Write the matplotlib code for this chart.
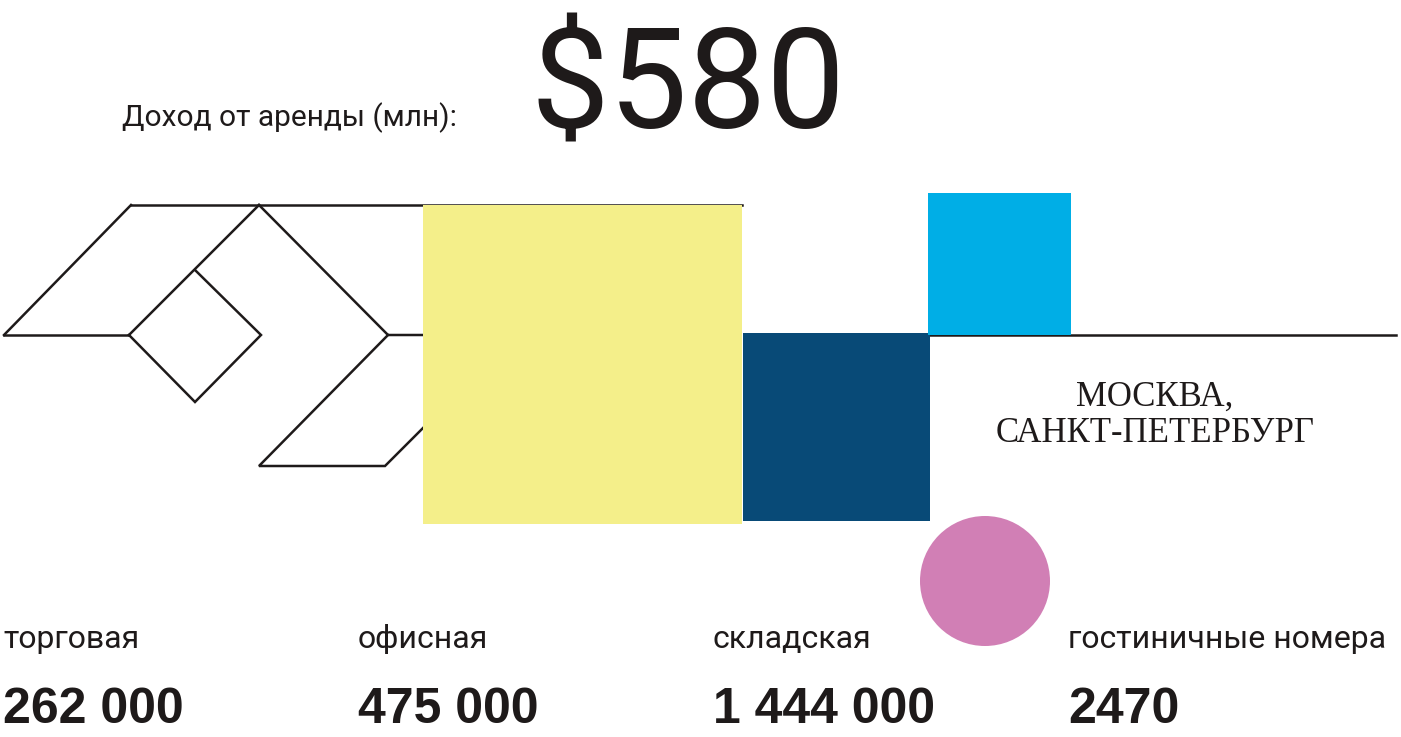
import matplotlib
matplotlib.use("Agg")
import matplotlib.pyplot as plt
from matplotlib.patches import Rectangle, Circle

# data
revenue_label = "Доход от аренды (млн):"
revenue = "$580"
region = "МОСКВА,\nСАНКТ-ПЕТЕРБУРГ"
categories = ["торговая", "офисная", "складская", "гостиничные номера"]
values = ["262 000", "475 000", "1 444 000", "2470"]

YELLOW = "#f4ef8a"
NAVY = "#084a77"
CYAN = "#00aee6"
PINK = "#d17fb5"
INK = "#1e1a1a"

W, H = 1401, 737
fig = plt.figure(figsize=(W / 100, H / 100), dpi=100)
ax = fig.add_axes([0, 0, 1, 1])
ax.set_xlim(0, W)
ax.set_ylim(H, 0)
ax.axis("off")

# tangram-like outline (pixel layout)
segs = [
    [(131, 205), (742, 205)],
    [(4, 335), (131, 205)],
    [(4, 335), (129, 335)],
    [(129, 335), (259, 205)],
    [(195, 270), (261, 335), (195, 402), (129, 335)],
    [(259, 205), (388, 335), (423, 335)],
    [(388, 335), (259, 466), (385, 466), (423, 428)],
    [(930, 335), (1396, 335)],
]
for s in segs:
    xs, ys = zip(*s)
    ax.plot(xs, ys, color=INK, lw=1.8, solid_joinstyle="miter", zorder=1)

ax.add_patch(Rectangle((423, 205), 319, 319, color=YELLOW, lw=0, zorder=2))
ax.add_patch(Rectangle((743, 333), 187, 188, color=NAVY, lw=0, zorder=2))
ax.add_patch(Rectangle((928, 193), 143, 142, color=CYAN, lw=0, zorder=2))
ax.add_patch(Circle((985, 581), 65, color=PINK, lw=0, zorder=2))

ax.text(122, 126, revenue_label, fontsize=21.5, family="Roboto",
        color=INK, va="baseline", ha="left")
ax.text(530, 128, revenue, fontsize=101, family="Roboto",
        color=INK, va="baseline", ha="left")

ax.text(1155, 442, region, fontsize=25, family="Liberation Serif",
        color=INK, va="baseline", ha="center", multialignment="center",
        linespacing=1.15)

for i, (c, v) in enumerate(zip(categories, values)):
    x0 = 3 + 355 * i
    ax.text(x0, 648, c, fontsize=23, family="Roboto", color=INK,
            va="baseline", ha="left")
    ax.text(x0, 723, v, fontsize=36, family="Liberation Sans",
            fontweight="bold", color=INK, va="baseline", ha="left")

fig.savefig("out.png", dpi=100)
